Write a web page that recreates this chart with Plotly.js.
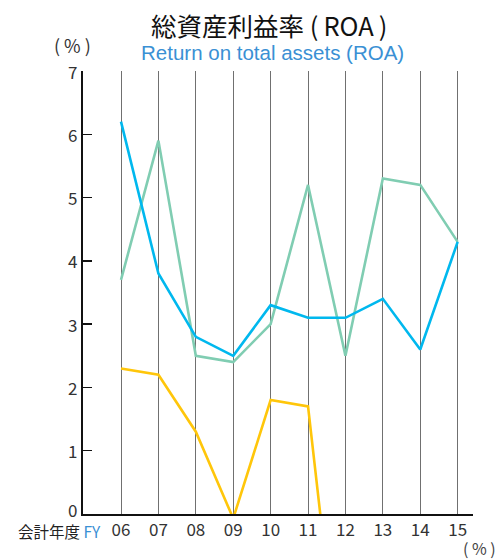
<!DOCTYPE html>
<html>
<head>
<meta charset="utf-8">
<script src="https://cdn.plot.ly/plotly-3.0.1.min.js"></script>
<style>html,body{margin:0;padding:0;background:#fff;}#chart{width:502px;height:560px;}</style>
</head>
<body>
<div id="chart"></div>
<script>
const years = ["06","07","08","09","10","11","12","13","14","15"];
const seriesBlue = [6.2, 3.8, 2.8, 2.5, 3.3, 3.1, 3.1, 3.4, 2.6, 4.3];
const seriesGreen = [3.7, 5.9, 2.5, 2.4, 3.0, 5.2, 2.5, 5.3, 5.2, 4.3];
const seriesYellow = [2.3, 2.2, 1.3, -0.07, 1.8, 1.7, -3.5, null, null, null];
const yTicks = [0,1,2,3,4,5,6,7];

const font = "'Noto Sans CJK JP', 'Noto Sans', sans-serif";
const L = 83, R = 473, T = 71, B = 514;
const px = x => (x - L) / (R - L);
const py = y => (B - y) / (B - T);

const mk = (y, color) => ({
  x: years, y: y, type: 'scatter', mode: 'lines',
  line: {color: color, width: 2.6}, connectgaps: false, hoverinfo: 'skip'
});

const data = [
  mk(seriesGreen, '#80cdb2'),
  mk(seriesBlue, '#00b8ee'),
  mk(seriesYellow, '#ffc60a')
];

const yLabels = yTicks.map(v => ({
  xref: 'paper', yref: 'y', x: px(78), y: v, xanchor: 'right', yanchor: 'middle',
  yshift: v === 0 ? 5 : 0, borderpad: 0,
  text: String(v), showarrow: false, font: {size: 17, color: '#333', family: font}
}));

const layout = {
  width: 502, height: 560,
  margin: {l: L, r: 502 - R, t: T, b: 560 - B, pad: 0},
  paper_bgcolor: '#fff', plot_bgcolor: '#fff',
  showlegend: false,
  font: {family: font, color: '#333'},
  xaxis: {
    type: 'category', range: [-1.016, 9.41],
    showgrid: true, gridcolor: '#707070', gridwidth: 1,
    showline: true, linecolor: '#111', linewidth: 2,
    ticks: '', tickfont: {size: 17, color: '#333', family: font},
    zeroline: false, fixedrange: true
  },
  yaxis: {
    range: [0, 7], tickvals: yTicks, showticklabels: false,
    showgrid: false, zeroline: false,
    showline: true, linecolor: '#111', linewidth: 2,
    ticks: 'inside', ticklen: 9, tickwidth: 1.5, tickcolor: '#111',
    fixedrange: true
  },
  annotations: yLabels.concat([
    {xref: 'paper', yref: 'paper', x: px(269), y: py(25), xanchor: 'center', yanchor: 'middle',
     text: '総資産利益率 (&#8201;ROA&#8201;)', showarrow: false, font: {size: 25.5, color: '#111', family: font}},
    {xref: 'paper', yref: 'paper', x: px(272), y: py(53), xanchor: 'center', yanchor: 'middle',
     text: 'Return on total assets (ROA)', showarrow: false, font: {size: 20.5, color: '#3a90d4', family: "'Liberation Sans', Arial, sans-serif"}},
    {xref: 'paper', yref: 'paper', x: px(72), y: py(45), xanchor: 'center', yanchor: 'middle',
     text: '( % )', showarrow: false, font: {size: 18, color: '#333', family: font}},
    {xref: 'paper', yref: 'paper', x: px(102), y: py(531), xanchor: 'right', yanchor: 'middle', borderpad: 0,
     text: '会計年度 <span style="color:#3a90d4">FY</span>', showarrow: false, font: {size: 15.5, color: '#222', family: font}},
    {xref: 'paper', yref: 'paper', x: px(497), y: py(548), xanchor: 'right', yanchor: 'middle', borderpad: 0,
     text: '( % )', showarrow: false, font: {size: 16, color: '#444', family: font}}
  ])
};

Plotly.newPlot('chart', data, layout, {displayModeBar: false, staticPlot: true});
</script>
</body>
</html>
